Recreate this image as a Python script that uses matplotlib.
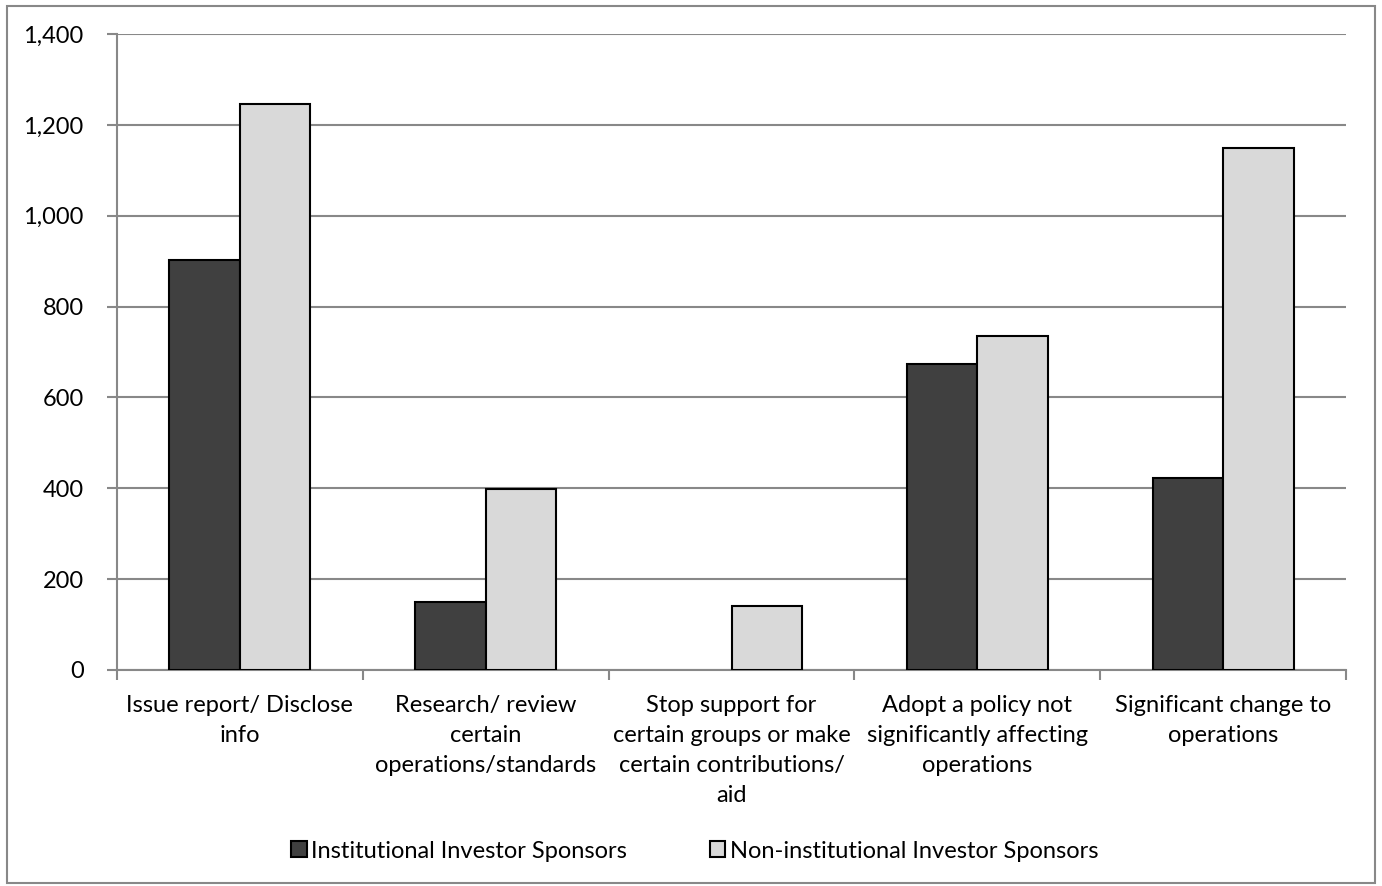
import numpy as np
import matplotlib.pyplot as plt
from matplotlib.patches import Rectangle

plt.rcParams['font.family'] = ['Lato', 'DejaVu Sans']

categories = ['Issue report/ Disclose\ninfo',
              'Research/ review\ncertain\noperations/standards',
              'Stop support for\ncertain groups or make\ncertain contributions/\naid',
              'Adopt a policy not\nsignificantly affecting\noperations',
              'Significant change to\noperations']
institutional = [903, 150, 0, 674, 423]
non_institutional = [1246, 398, 141, 735, 1150]
yticks = [0, 200, 400, 600, 800, 1000, 1200, 1400]

fig = plt.figure(figsize=(13.82, 8.86), dpi=100)
ax = fig.add_axes([117 / 1382, 1 - 670 / 886, (1346 - 117) / 1382, (670 - 34) / 886])

# rahmen um die ganze grafik
fig.patches.append(Rectangle((7 / 1382, 3 / 886), 1 - 14 / 1382, 1 - 9 / 886,
                             transform=fig.transFigure, fill=False,
                             edgecolor='#888888', linewidth=1.5))

x = np.arange(len(categories))
w = 0.287
bars1 = ax.bar(x - w / 2, institutional, w, color='#404040', edgecolor='black',
               linewidth=1.5, label='Institutional Investor Sponsors', zorder=3)
ax.bar(x + w / 2, non_institutional, w, color='#d9d9d9', edgecolor='black',
       linewidth=1.5, label='Non-institutional Investor Sponsors', zorder=3)
# balken mit wert 0 nicht umranden
for b, v in zip(bars1, institutional):
    if v == 0:
        b.set_linewidth(0)

ax.set_xlim(-0.5, len(categories) - 0.5)
ax.set_ylim(0, 1400)
ax.set_yticks(yticks)
ax.set_yticklabels([f'{v:,}' for v in yticks])
ax.yaxis.grid(True, color='#888888', linewidth=1.5, zorder=0)

ax.set_xticks(np.arange(len(categories) + 1) - 0.5)
ax.set_xticklabels([])
ax.set_xticks(x, minor=True)
ax.set_xticklabels(categories, minor=True, fontsize=17, linespacing=1.52)
ax.tick_params(axis='x', which='minor', length=0, pad=18)
ax.tick_params(axis='x', which='major', length=7, width=1.5, color='#888888')
ax.tick_params(axis='y', length=7, width=1.5, color='#888888', labelsize=17, pad=17)

for s in ['top', 'right']:
    ax.spines[s].set_visible(False)
for s in ['left', 'bottom']:
    ax.spines[s].set_color('#888888')
    ax.spines[s].set_linewidth(1.5)

fig.legend(loc='center', bbox_to_anchor=(695 / 1382, 1 - 851 / 886), ncol=2,
           frameon=False, fontsize=17, handlelength=0.65, handleheight=0.65,
           handletextpad=0.2, columnspacing=3.5)

fig.savefig('out.png', dpi=100)
